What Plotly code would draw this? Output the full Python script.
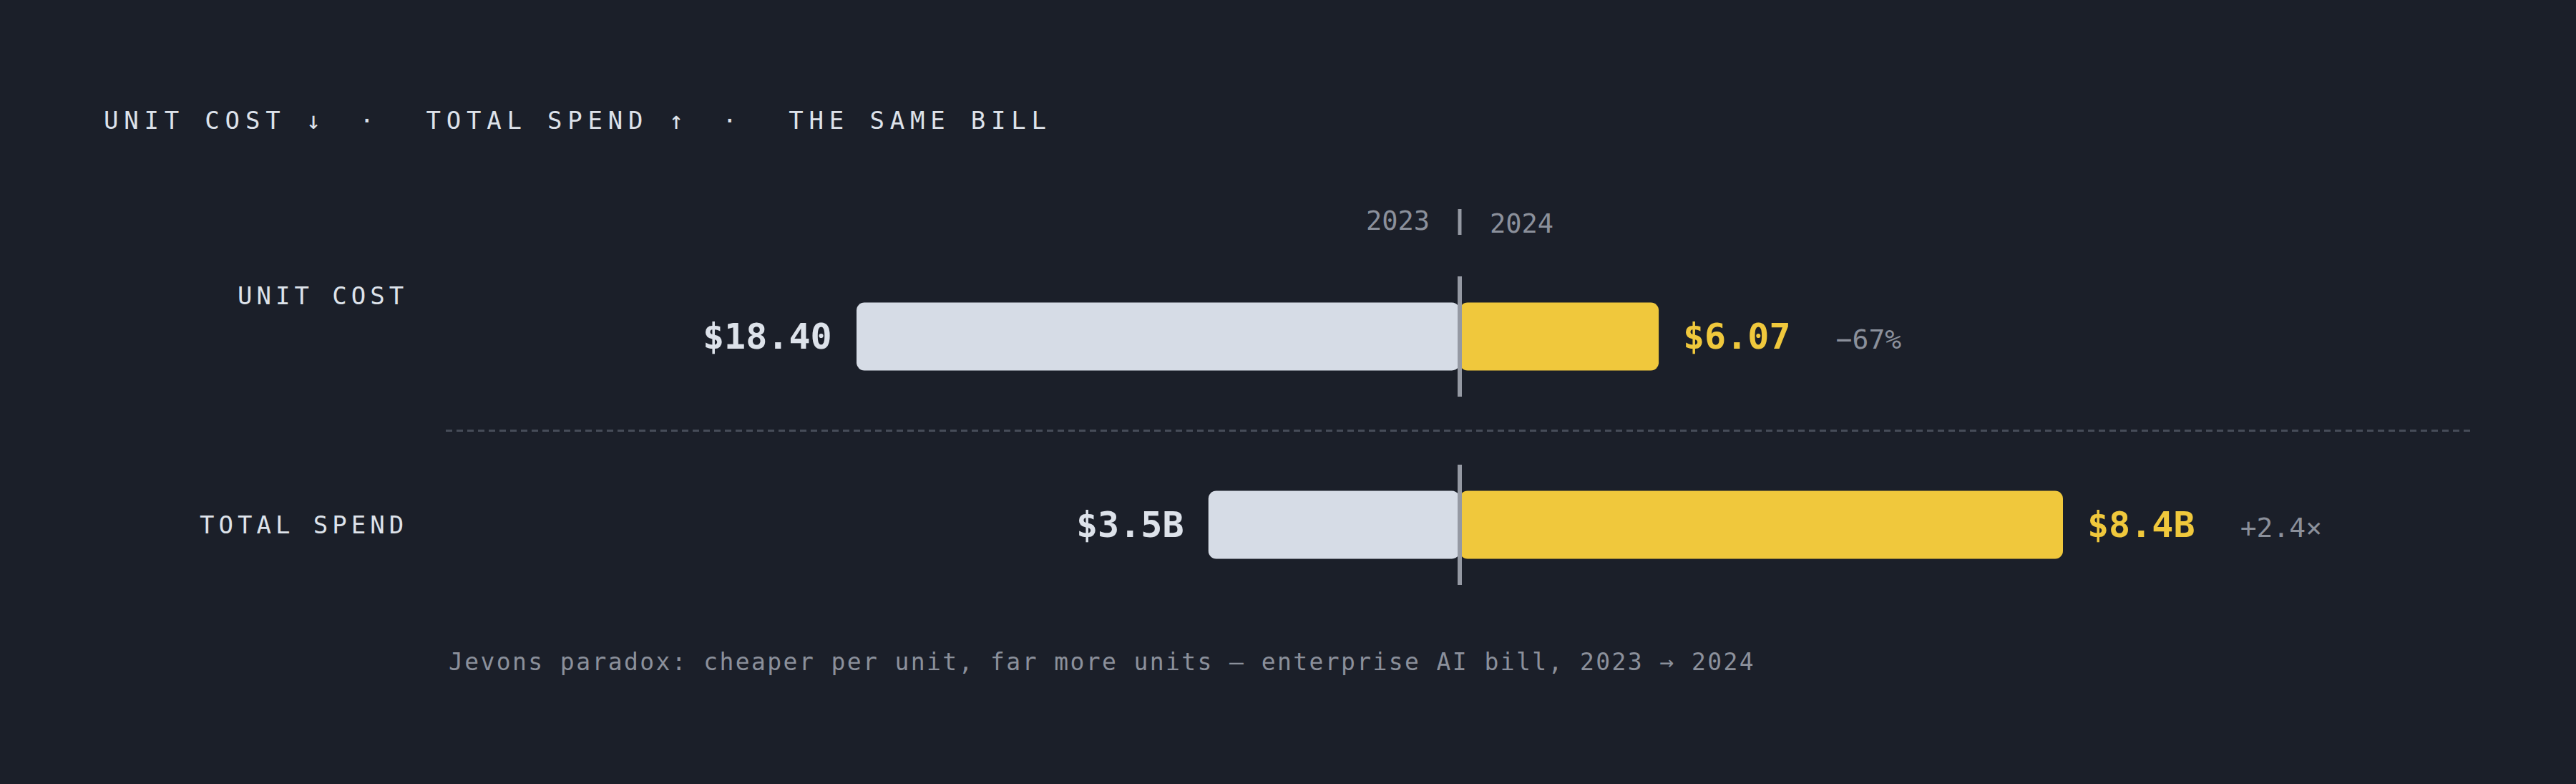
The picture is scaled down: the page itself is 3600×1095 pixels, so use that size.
"""Jevons paradox split-bar chart: unit cost down, total spend up."""

from __future__ import annotations

import plotly.graph_objects as go

# ---------------------------------------------------------------------------
# Data
# ---------------------------------------------------------------------------

METRICS = ['UNIT COST', 'TOTAL SPEND']
YEARS = ['2023', '2024']
VALUES_2023 = [18.40, 3.5]
VALUES_2024 = [6.07, 8.4]
LABELS_2023 = ['$18.40', '$3.5B']
LABELS_2024 = ['$6.07', '$8.4B']
CHANGE_LABELS = ['−67%', '+2.4×']

TITLE_PARTS = ['UNIT COST ↓', ' · ', 'TOTAL SPEND ↑', ' · ', 'THE SAME BILL']
FOOTNOTE = 'Jevons paradox: cheaper per unit, far more units — enterprise AI bill, 2023 → 2024'

# ---------------------------------------------------------------------------
# Style / geometry (pixels)
# ---------------------------------------------------------------------------

W, H = 3600, 1095
FONT = 'DejaVu Sans Mono'
BG = '#1b1f29'
LIGHT = '#d6dce6'
YELLOW = '#f0c83c'
TEXT = '#dde2ea'
GRAY = '#8b909b'
RULE = '#9599a3'
DASH = '#464c58'

CENTER_PX = 2040          # x of the 2023 | 2024 divider
BAR_MAX_PX = 843          # longest bar in each row
ROW_PX = [470, 733]       # bar centres, from top
BAR_PX = 95
ROW_LABEL_SHIFT = [57, 0]


def _px_x(px: float) -> float:
    return px / W


def _px_y(py: float) -> float:
    return 1 - py / H


def _spaced(text: str, spacing: float) -> str:
    return f'<span style="letter-spacing:{spacing}px">{text}</span>'


fig = go.Figure()

row_gap = ROW_PX[1] - ROW_PX[0]
axis_names = ['x', 'x2']

for i, metric in enumerate(METRICS):
    xa = axis_names[i]
    fig.add_trace(go.Bar(
        x=[-VALUES_2023[i]], y=[i], base=0, orientation='h',
        width=BAR_PX / row_gap, xaxis=xa, yaxis='y',
        marker=dict(color=LIGHT, cornerradius=11, line=dict(width=0)),
        name=f'{metric} {YEARS[0]}', hoverinfo='skip',
    ))
    fig.add_trace(go.Bar(
        x=[VALUES_2024[i]], y=[i], base=0, orientation='h',
        width=BAR_PX / row_gap, xaxis=xa, yaxis='y',
        marker=dict(color=YELLOW, cornerradius=11, line=dict(width=0)),
        name=f'{metric} {YEARS[1]}', hoverinfo='skip',
    ))

    # divider through the bar
    fig.add_shape(type='line', xref=xa, yref='y', x0=0, x1=0,
                  y0=i - 84 / row_gap, y1=i + 84 / row_gap,
                  line=dict(color=RULE, width=6), layer='above')

    # value labels
    fig.add_annotation(
        xref=xa, yref='y', x=-VALUES_2023[i], y=i, xanchor='right', yanchor='middle',
        xshift=-32, showarrow=False, text=f'<b>{LABELS_2023[i]}</b>',
        font=dict(family=FONT, size=50, color=TEXT),
    )
    fig.add_annotation(
        xref=xa, yref='y', x=VALUES_2024[i], y=i, xanchor='left', yanchor='middle',
        xshift=32, showarrow=False,
        text=(f'<b>{LABELS_2024[i]}</b>'
              f'<span style="letter-spacing:33px"> </span>'
              f'<span style="font-size:38px;color:{GRAY}">{CHANGE_LABELS[i]}</span>'),
        font=dict(family=FONT, size=50, color=YELLOW),
    )

    # row label
    fig.add_annotation(
        xref='paper', yref='y', x=_px_x(572), y=i, xanchor='right', yanchor='middle',
        yshift=ROW_LABEL_SHIFT[i], showarrow=False, text=_spaced(metric, 6),
        font=dict(family=FONT, size=34, color=TEXT),
    )

# dashed separator between rows
fig.add_shape(type='line', xref='paper', yref='y', x0=_px_x(623), x1=_px_x(3455),
              y0=0.5, y1=0.5, line=dict(color=DASH, width=3, dash='9px,6px'))

# year header with tick
fig.add_shape(type='line', xref='x', yref='paper', x0=0, x1=0,
              y0=_px_y(292), y1=_px_y(328), line=dict(color=RULE, width=5))
fig.add_annotation(xref='x', yref='paper', x=0, y=_px_y(308), xanchor='right',
                   yanchor='middle', xshift=-40, showarrow=False, text=YEARS[0],
                   font=dict(family=FONT, size=37, color=GRAY))
fig.add_annotation(xref='x', yref='paper', x=0, y=_px_y(313), xanchor='left',
                   yanchor='middle', xshift=40, showarrow=False, text=YEARS[1],
                   font=dict(family=FONT, size=37, color=GRAY))

# title
title_html = ''.join(_spaced(p, 26 if p.strip() == '·' else 7.8) for p in TITLE_PARTS)
fig.add_annotation(xref='paper', yref='paper', x=_px_x(143), y=_px_y(168),
                   xanchor='left', yanchor='middle', showarrow=False, text=title_html,
                   font=dict(family=FONT, size=34, color=TEXT))

# footnote
fig.add_annotation(xref='paper', yref='paper', x=_px_x(625), y=_px_y(924),
                   xanchor='left', yanchor='middle', showarrow=False,
                   text=_spaced(FOOTNOTE, 2.4),
                   font=dict(family=FONT, size=33, color=GRAY))


def _x_range(row_max: float) -> list[float]:
    k = BAR_MAX_PX / row_max
    return [-CENTER_PX / k, (W - CENTER_PX) / k]


row_max = [max(a, b) for a, b in zip(VALUES_2023, VALUES_2024)]
y_top = -ROW_PX[0] / row_gap
y_bottom = (H - ROW_PX[0]) / row_gap

fig.update_layout(
    width=W, height=H,
    margin=dict(l=0, r=0, t=0, b=0),
    paper_bgcolor=BG, plot_bgcolor=BG,
    barmode='overlay', showlegend=False,
    xaxis=dict(domain=[0, 1], range=_x_range(row_max[0]), visible=False, fixedrange=True),
    xaxis2=dict(domain=[0, 1], range=_x_range(row_max[1]), visible=False,
                overlaying='x', anchor='y', fixedrange=True),
    yaxis=dict(range=[y_bottom, y_top], visible=False, fixedrange=True),
)

# drop the default page margin so the figure fills the window
fig.write_html(
    'out.html',
    config={'displayModeBar': False},
    post_script=f"document.body.style.margin='0';document.body.style.background='{BG}';",
)
